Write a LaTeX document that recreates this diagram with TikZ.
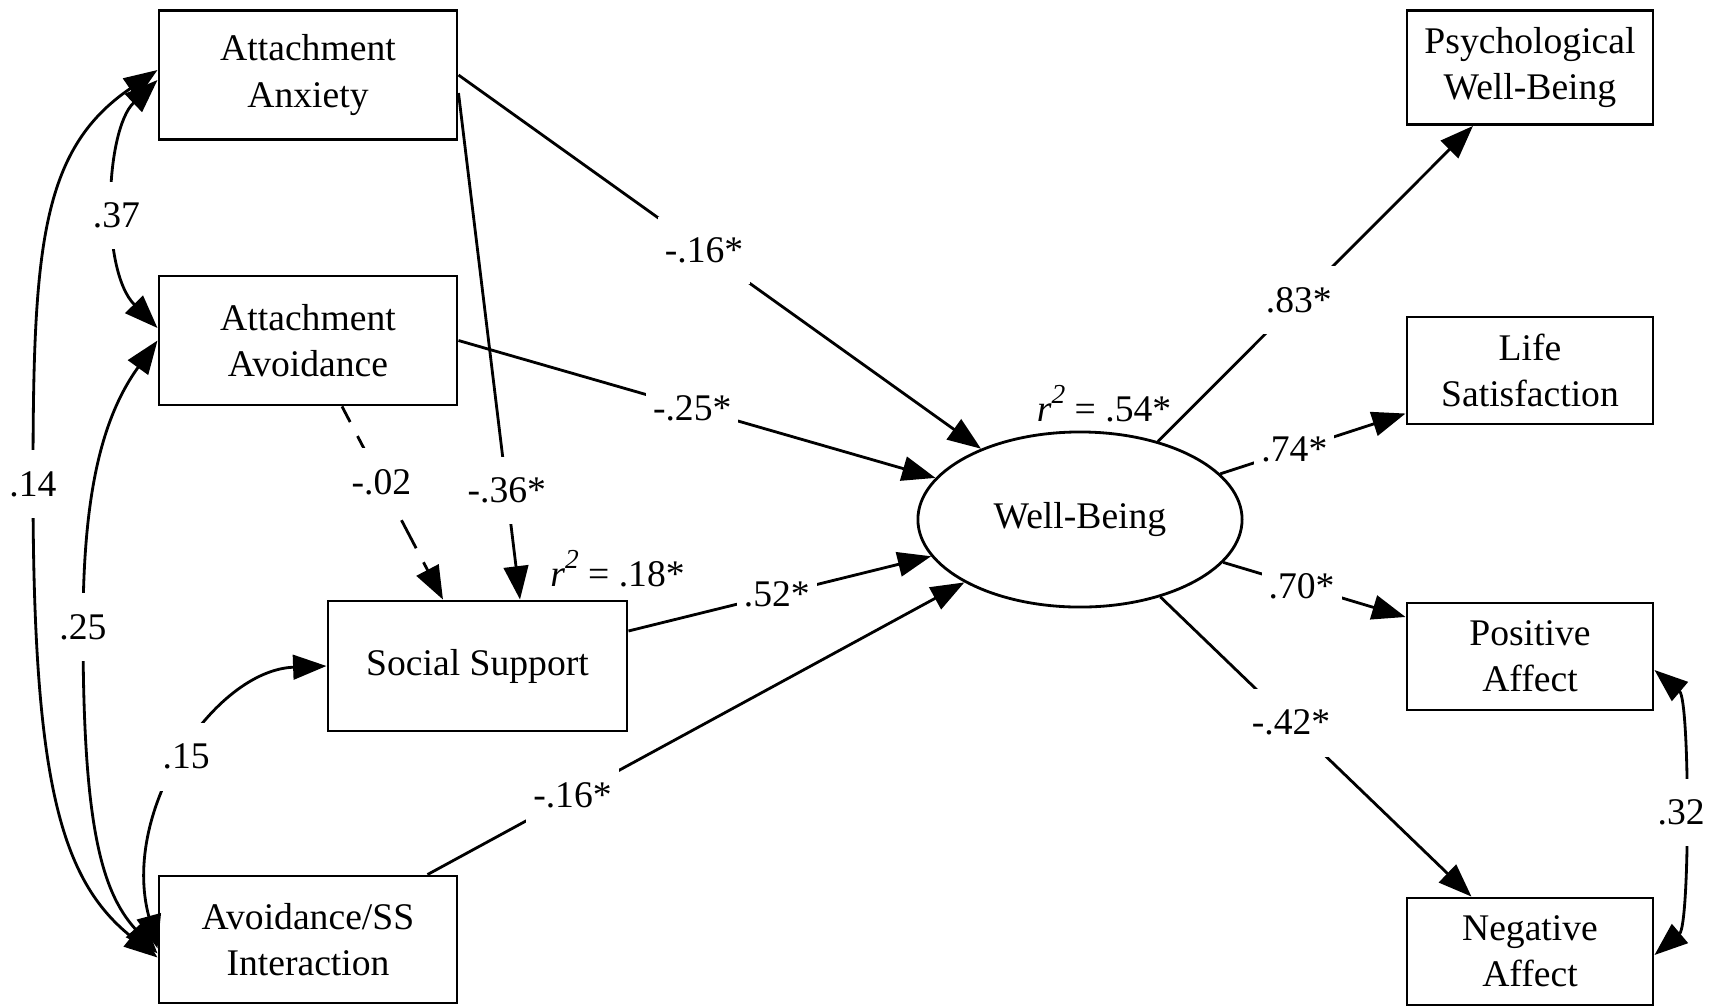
\documentclass[tikz,border=0pt]{standalone}
\usepackage{fontspec}
\setmainfont{Liberation Serif}
\usetikzlibrary{arrows.meta, positioning, shapes.geometric}

\newcommand\rsq{\textit{r}\raisebox{5.2pt}{\fontsize{7.8}{8}\selectfont\itshape 2}}

\tikzset{
  obsbox/.style={draw, line width=0.8pt, minimum width=2.98cm, minimum height=1.29cm, align=center, inner sep=1pt},
  indbox/.style={draw, line width=0.8pt, minimum width=2.46cm, minimum height=1.07cm, align=center, inner sep=1pt},
  latent/.style={draw, ellipse, line width=0.8pt, minimum width=3.24cm, minimum height=1.75cm, inner sep=0pt},
  effect/.style={-{Triangle[length=9.5pt, width=7pt]}, line width=0.8pt},
  covar/.style={{Triangle[length=9.5pt, width=7pt]}-{Triangle[length=9.5pt, width=7pt]}, line width=0.8pt},
  coef/.style={fill=white, inner xsep=2pt, inner ysep=6pt},
}

\begin{document}
\begin{tikzpicture}[x=0.01cm, y=-0.01cm, font=\fontsize{10.7}{13.2}\selectfont]
  \useasboundingbox (0,0) rectangle (1717,1005);

  % predictors
  \node[obsbox] (anx) at (308,75) {Attachment\\Anxiety};
  \node[obsbox] (avo) at (308,340.5) {Attachment\\Avoidance};
  \node[obsbox, minimum width=2.99cm, minimum height=1.30cm] (ss) at (477.5,666) {Social Support};
  \node[obsbox, minimum height=1.27cm] (inter) at (308,939.5) {Avoidance/SS\\Interaction};

  % latent outcome and indicators
  \node[latent] (wb) at (1080,519.5) {Well-Being};
  \node[indbox, minimum height=1.14cm] (pwb) at (1530,67.5) {Psychological\\Well-Being};
  \node[indbox] (life) at (1530,370.5) {Life\\Satisfaction};
  \node[indbox] (posaff) at (1530,656.5) {Positive\\Affect};
  \node[indbox] (negaff) at (1530,951.5) {Negative\\Affect};

  \node (ssr) at ([xshift=-0.11cm, yshift=0.31cm]ss.north east) {\rsq{} = .18*};
  \node (wbr) at ([xshift=0.24cm, yshift=0.27cm]wb.north) {\rsq{} = .54*};

  % paths
  \draw[effect] (anx.east) -- node[coef, pos=0.47] {-.16*} (wb);
  \draw[effect] ([yshift=-0.18cm]anx.east) -- node[coef, pos=0.785] {-.36*} ([xshift=0.425cm]ss.north);
  \draw[effect] (avo.east) -- node[coef, pos=0.49] {-.25*} (wb);
  \draw[effect, dash pattern=on 9pt off 4.5pt, dash phase=4pt] ([xshift=0.34cm]avo.south) -- node[coef, pos=0.39] {-.02} ([xshift=-0.345cm]ss.north);
  \draw[effect] ([yshift=0.35cm]ss.east) -- node[coef, pos=0.49] {.52*} (wb);
  \draw[effect] ([xshift=-0.31cm]inter.north east) -- node[coef, pos=0.27] {-.16*} (wb);

  % loadings
  \draw[effect] (wb) -- node[coef, pos=0.447] {.83*} ([xshift=-0.57cm]pwb.south);
  \draw[effect] (wb) -- node[coef, pos=0.40] {.74*} ([yshift=-0.43cm]life.west);
  \draw[effect] (wb) -- node[coef, pos=0.43] {.70*} ([yshift=0.395cm]posaff.west);
  \draw[effect] (wb) -- node[coef, pos=0.42] {-.42*} ([xshift=-0.585cm]negaff.north);

  % covariances
  \draw[covar] ([yshift=0.05cm]anx.west) .. controls (40,150) and (33,250) .. (33,484) node[coef] {.14}
    .. controls (33,780) and (60,880) .. ([yshift=-0.18cm]inter.west);
  \draw[covar] ([yshift=-0.05cm]anx.west) .. controls (105,130) and (100,270) .. ([yshift=0.125cm]avo.west) node[coef, pos=0.55] {.37};
  \draw[covar] (avo.west) .. controls (100,420) and (83,500) .. (83,627) node[coef] {.25}
    .. controls (83,820) and (100,890) .. ([yshift=-0.14cm]inter.west);
  \draw[covar] (ss.west) .. controls (215,670) and (120,810) .. ([yshift=-0.09cm]inter.west) node[coef, pos=0.5] {.15};
  \draw[covar] ([yshift=-0.135cm]posaff.east) .. controls (1690,700) and (1690,925) .. ([yshift=-0.035cm]negaff.east) node[coef, pos=0.5] {.32};
\end{tikzpicture}
\end{document}
